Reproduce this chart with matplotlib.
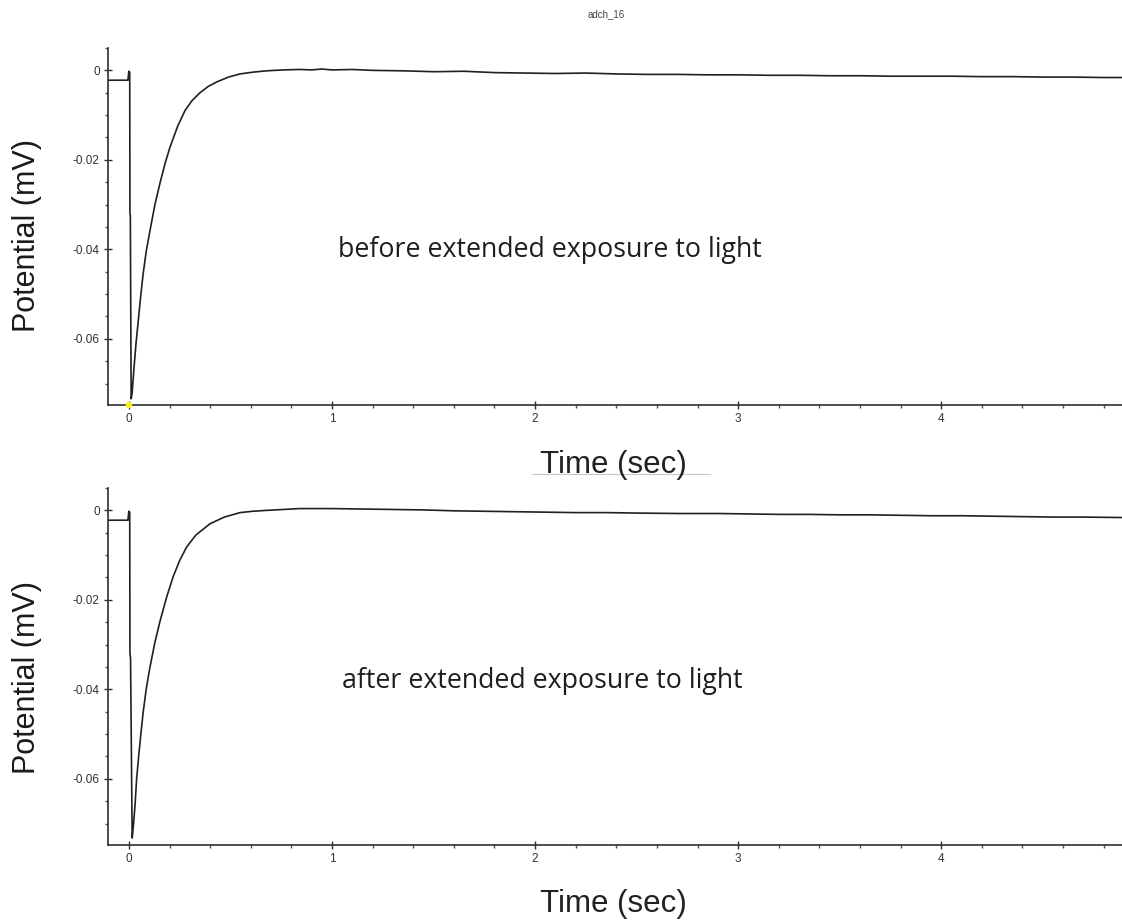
import matplotlib
matplotlib.use("Agg")
import matplotlib.pyplot as plt
from matplotlib.lines import Line2D
from matplotlib.ticker import MultipleLocator, FuncFormatter

# ---------------- data ----------------
top_t = [-0.10, -0.005, 0.0, 0.004, 0.005, 0.007, 0.011, 0.016, 0.025, 0.035,
         0.046, 0.058, 0.070, 0.085, 0.103, 0.128, 0.153, 0.178, 0.202, 0.240,
         0.276, 0.310, 0.350, 0.390, 0.432, 0.490, 0.547, 0.610, 0.678, 0.760,
         0.840, 0.90, 0.95, 1.00, 1.10, 1.20, 1.35, 1.50, 1.65, 1.80, 1.95,
         2.10, 2.25, 2.40, 2.55, 2.70, 2.85, 3.00, 3.15, 3.30, 3.45, 3.60,
         3.75, 3.90, 4.05, 4.20, 4.35, 4.50, 4.65, 4.80, 4.89]
top_v = [-0.0022, -0.0022, -0.0001, -0.0005, -0.0320, -0.0325, -0.0735, -0.0720,
         -0.0665, -0.0610, -0.0560, -0.0505, -0.0455, -0.0405, -0.0360, -0.0300,
         -0.0252, -0.0208, -0.0172, -0.0125, -0.0090, -0.0068, -0.0050, -0.0036,
         -0.0026, -0.0015, -0.0008, -0.0004, -0.0001, 0.0001, 0.0002, 0.0001,
         0.0003, 0.0001, 0.0002, 0.0000, -0.0001, -0.0003, -0.0002, -0.0005,
         -0.0006, -0.0007, -0.0006, -0.0008, -0.0009, -0.0009, -0.0010, -0.0010,
         -0.0011, -0.0011, -0.0012, -0.0012, -0.0013, -0.0013, -0.0013, -0.0014,
         -0.0014, -0.0015, -0.0015, -0.0016, -0.0016]

bot_t = [-0.10, -0.005, 0.0, 0.004, 0.005, 0.008, 0.016, 0.022, 0.030, 0.038,
         0.050, 0.060, 0.070, 0.085, 0.103, 0.128, 0.153, 0.185, 0.218, 0.250,
         0.284, 0.330, 0.399, 0.470, 0.547, 0.610, 0.678, 0.760, 0.840, 0.92,
         1.00, 1.15, 1.30, 1.45, 1.60, 1.75, 1.90, 2.05, 2.20, 2.35, 2.50,
         2.70, 2.90, 3.05, 3.20, 3.35, 3.50, 3.65, 3.80, 3.95, 4.10, 4.25,
         4.40, 4.55, 4.70, 4.89]
bot_v = [-0.0022, -0.0022, -0.0001, -0.0005, -0.0320, -0.0330, -0.0733, -0.0705,
         -0.0660, -0.0600, -0.0540, -0.0495, -0.0452, -0.0400, -0.0352, -0.0295,
         -0.0248, -0.0195, -0.0148, -0.0112, -0.0082, -0.0055, -0.0030, -0.0015,
         -0.0005, -0.0002, 0.0000, 0.0002, 0.0004, 0.0004, 0.0004, 0.0003,
         0.0002, 0.0001, -0.0001, -0.0002, -0.0003, -0.0004, -0.0005, -0.0005,
         -0.0006, -0.0007, -0.0007, -0.0008, -0.0009, -0.0009, -0.0010, -0.0010,
         -0.0011, -0.0012, -0.0012, -0.0013, -0.0014, -0.0015, -0.0015, -0.0016]

marker_t = [0.0]
x_major = [0, 1, 2, 3, 4]
y_major = [0, -0.02, -0.04, -0.06]
title_text = "adch_16"
x_label = "Time (sec)"
y_label = "Potential (mV)"
notes = ["before extended exposure to light", "after extended exposure to light"]

# ---------------- figure ----------------
W, H = 1122, 924
fig = plt.figure(figsize=(W / 100, H / 100), dpi=100)
plt.rcParams['font.family'] = ['Liberation Sans', 'DejaVu Sans']

XLIM = (-0.103, 4.89)
YLIM = (-0.0748, 0.005)

def fmt(v, pos):
    if abs(v) < 1e-9:
        return "0"
    return "%.2f" % v

def setup(ax):
    ax.set_xlim(*XLIM)
    ax.set_ylim(*YLIM)
    for s in ("top", "right"):
        ax.spines[s].set_visible(False)
    for s in ("left", "bottom"):
        ax.spines[s].set_color("#303030")
        ax.spines[s].set_linewidth(1.2)
    ax.set_xticks(x_major)
    ax.set_yticks(y_major)
    ax.xaxis.set_minor_locator(MultipleLocator(0.2))
    ax.yaxis.set_minor_locator(MultipleLocator(0.005))
    ax.yaxis.set_major_formatter(FuncFormatter(fmt))
    ax.tick_params(which="major", direction="inout", length=6, width=1.0,
                   color="#303030", labelsize=8.5, labelcolor="#333333", pad=3)
    ax.tick_params(which="minor", direction="out", length=2.5, width=1.0,
                   color="#505050")
    ax.set_facecolor("white")

ax1 = fig.add_axes([108 / W, 1 - 405 / H, 1 - 108 / W, (405 - 48) / H])
ax2 = fig.add_axes([108 / W, 1 - 845 / H, 1 - 108 / W, (845 - 488) / H])

for ax, t, v in ((ax1, top_t, top_v), (ax2, bot_t, bot_v)):
    setup(ax)
    ax.plot(t, v, color="#202020", lw=1.2, solid_joinstyle="miter")

ax1.scatter(marker_t, [YLIM[0]] * len(marker_t), s=22, color="#f5f020",
            zorder=5, clip_on=False, edgecolors="none")

# axis labels
fig.text(27 / W, 1 - 236 / H, y_label, rotation=90, ha="center", va="center",
         fontsize=22, color="#1a1a1a")
fig.text(27 / W, 1 - 678 / H, y_label, rotation=90, ha="center", va="center",
         fontsize=22, color="#1a1a1a")
fig.text(613 / W, 1 - 465 / H, x_label, ha="center", va="center",
         fontsize=22.5, color="#222222")
fig.text(613 / W, 1 - 904 / H, x_label, ha="center", va="center",
         fontsize=22.5, color="#222222")
fig.add_artist(Line2D([532 / W, 710 / W], [1 - 474 / H, 1 - 474 / H],
                      transform=fig.transFigure, color="#c8c8c8", lw=0.8))
fig.text(606 / W, 1 - 14 / H, title_text, ha="center", va="center",
         fontsize=7, color="#444444")

fig.text(550 / W, 1 - 250 / H, notes[0], ha="center", va="center",
         fontsize=19.3, color="#1e1e1e", family=["Open Sans", "DejaVu Sans"])
fig.text(542 / W, 1 - 681 / H, notes[1], ha="center", va="center",
         fontsize=19.3, color="#1e1e1e", family=["Open Sans", "DejaVu Sans"])

fig.savefig("out.png", dpi=100, facecolor="white")
